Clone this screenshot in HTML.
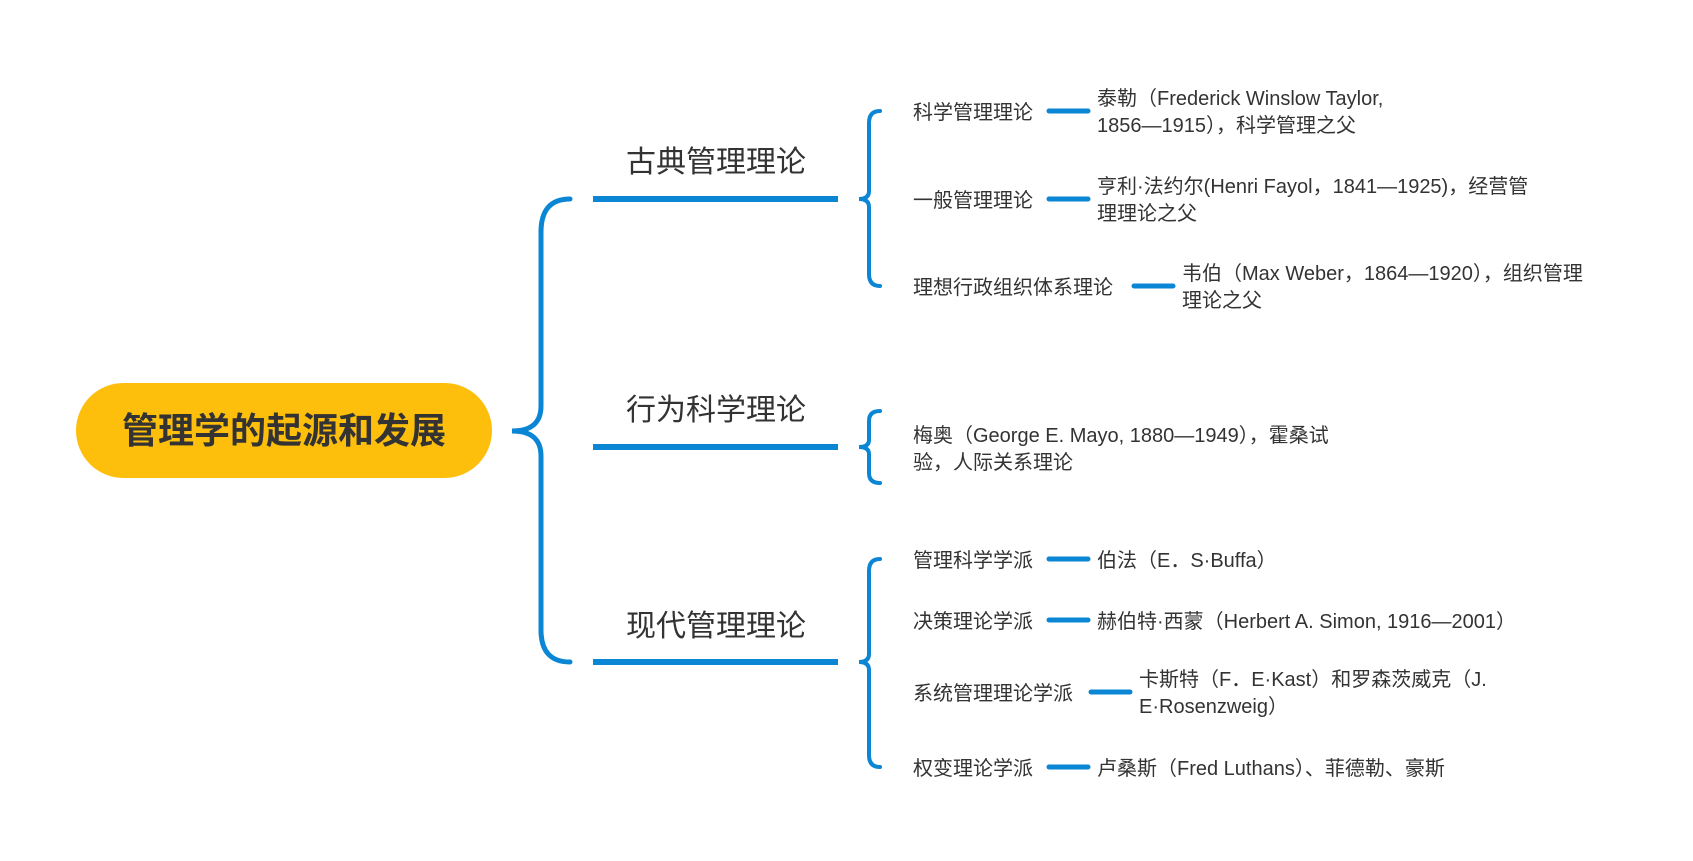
<!DOCTYPE html>
<html><head><meta charset="utf-8">
<style>
html,body{margin:0;padding:0;background:#fff;}
svg{display:block;}
text{font-family:"Liberation Sans","Noto Sans CJK SC",sans-serif;fill:#333;}
.l2{font-size:20px;}
.lf{font-size:20px;}
.l1{font-size:30px;fill:#333;}
</style></head><body>
<svg width="1693" height="861" viewBox="0 0 1693 861" xmlns="http://www.w3.org/2000/svg">
<g fill="none" stroke="#0A86D4" stroke-linecap="round">
  <!-- big bracket -->
  <path d="M570,199 Q541,199 541,232 L541,406 Q541,431 512,431 Q541,431 541,456 L541,630 Q541,662 570,662" stroke-width="5"/>
  <!-- level1 lines -->
  <line x1="593" y1="199" x2="838" y2="199" stroke-width="6" stroke-linecap="butt"/>
  <line x1="593" y1="447" x2="838" y2="447" stroke-width="6" stroke-linecap="butt"/>
  <line x1="593" y1="662" x2="838" y2="662" stroke-width="6" stroke-linecap="butt"/>
  <!-- small brackets -->
  <path d="M880,111 Q869,111 869,123 L869,191 Q869,199 859,199 Q869,199 869,207 L869,274 Q869,286 880,286" stroke-width="4"/>
  <path d="M880,411 Q869,411 869,421 L869,440 Q869,447 859,447 Q869,447 869,454 L869,473 Q869,483 880,483" stroke-width="4"/>
  <path d="M880,559 Q869,559 869,571 L869,654 Q869,662 859,662 Q869,662 869,670 L869,755 Q869,767 880,767" stroke-width="4"/>
  <!-- connectors -->
  <g stroke-width="5">
    <line x1="1049" y1="111" x2="1088" y2="111"/>
    <line x1="1049" y1="199" x2="1088" y2="199"/>
    <line x1="1134" y1="286" x2="1173" y2="286"/>
    <line x1="1049" y1="559" x2="1088" y2="559"/>
    <line x1="1049" y1="620" x2="1088" y2="620"/>
    <line x1="1091" y1="692" x2="1130" y2="692"/>
    <line x1="1049" y1="767" x2="1088" y2="767"/>
  </g>
</g>
<!-- root -->
<rect x="76" y="383" width="416" height="95" rx="47.5" fill="#FDBE0C"/>
<text x="284" y="443" text-anchor="middle" style="font-size:36px;font-weight:bold;fill:#333;">管理学的起源和发展</text>
<!-- level1 -->
<text class="l1" x="716" y="172" text-anchor="middle">古典管理理论</text>
<text class="l1" x="716" y="420" text-anchor="middle">行为科学理论</text>
<text class="l1" x="716" y="636" text-anchor="middle">现代管理理论</text>
<!-- level2 -->
<text class="l2" x="913" y="119">科学管理理论</text>
<text class="l2" x="913" y="207">一般管理理论</text>
<text class="l2" x="913" y="294">理想行政组织体系理论</text>
<text class="l2" x="913" y="442">梅奥（George E. Mayo, 1880—1949），霍桑试</text>
<text class="l2" x="913" y="469">验，人际关系理论</text>
<text class="l2" x="913" y="567">管理科学学派</text>
<text class="l2" x="913" y="628">决策理论学派</text>
<text class="l2" x="913" y="700">系统管理理论学派</text>
<text class="l2" x="913" y="775">权变理论学派</text>
<!-- leaves -->
<text class="lf" x="1097" y="105">泰勒（Frederick Winslow Taylor,</text>
<text class="lf" x="1097" y="132">1856—1915），科学管理之父</text>
<text class="lf" x="1097" y="193">亨利·法约尔(Henri Fayol，1841—1925)，经营管</text>
<text class="lf" x="1097" y="220">理理论之父</text>
<text class="lf" x="1182" y="280">韦伯（Max Weber，1864—1920），组织管理</text>
<text class="lf" x="1182" y="307">理论之父</text>
<text class="lf" x="1097" y="567">伯法（E．S·Buffa）</text>
<text class="lf" x="1097" y="628">赫伯特·西蒙（Herbert A. Simon, 1916—2001）</text>
<text class="lf" x="1139" y="686">卡斯特（F．E·Kast）和罗森茨威克（J.</text>
<text class="lf" x="1139" y="713">E·Rosenzweig）</text>
<text class="lf" x="1097" y="775">卢桑斯（Fred Luthans）、菲德勒、豪斯</text>
</svg>
</body></html>
